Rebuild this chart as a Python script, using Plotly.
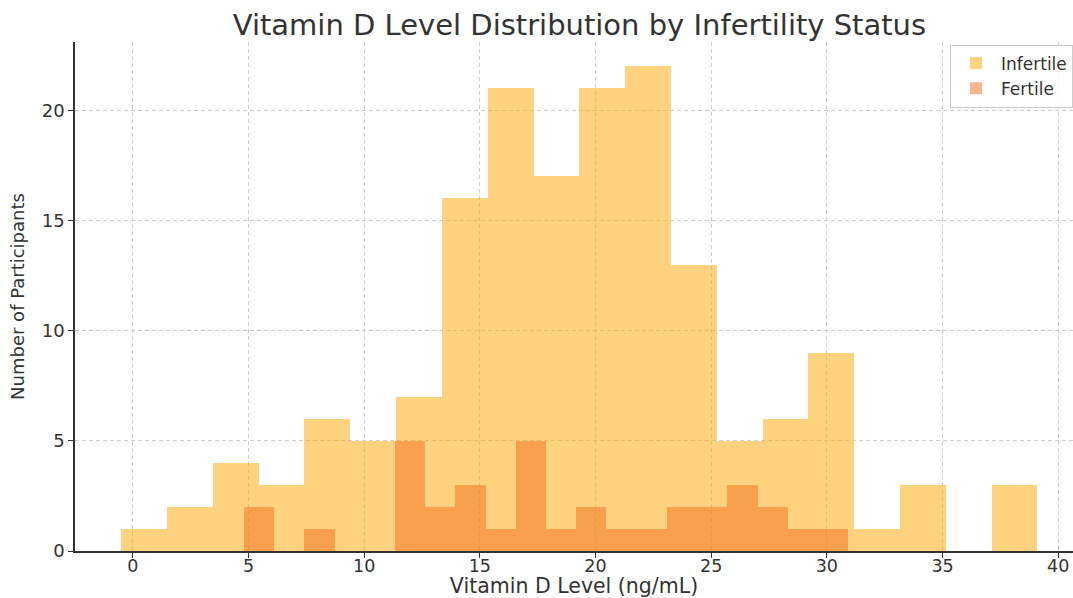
import plotly.graph_objects as go

# Histogram data (bin start, bin width, counts)
infertile_start = -0.5
infertile_width = 1.98
infertile_counts = [1, 2, 4, 3, 6, 5, 7, 16, 21, 17, 21, 22, 13, 5, 6, 9, 1, 3, 0, 3]

fertile_start = 4.80
fertile_width = 1.306
fertile_counts = [2, 0, 1, 0, 0, 5, 2, 3, 1, 5, 1, 2, 1, 1, 2, 2, 3, 2, 1, 1]

x_ticks = [0, 5, 10, 15, 20, 25, 30, 35, 40]
y_ticks = [0, 5, 10, 15, 20]


def centers(start, width, n):
    return [start + width * (i + 0.5) for i in range(n)]


FONT = "DejaVu Sans"
TXT = "#333333"
GRID = "#cfcfcf"

fig = go.Figure()
fig.add_trace(go.Bar(
    x=centers(infertile_start, infertile_width, len(infertile_counts)),
    y=infertile_counts, width=infertile_width, name="Infertile",
    marker=dict(color="rgba(255,165,0,0.5)", line=dict(width=0)),
))
fig.add_trace(go.Bar(
    x=centers(fertile_start, fertile_width, len(fertile_counts)),
    y=fertile_counts, width=fertile_width, name="Fertile",
    marker=dict(color="rgba(243,110,30,0.5)", line=dict(width=0)),
))

fig.update_layout(
    width=1073, height=598,
    barmode="overlay", bargap=0,
    paper_bgcolor="white", plot_bgcolor="white",
    margin=dict(l=75, r=0, t=42, b=47, autoexpand=False),
    font=dict(family=FONT, color=TXT, size=16),
    title=dict(text="Vitamin D Level Distribution by Infertility Status",
               x=0.54, xanchor="center", y=0.958, yanchor="middle",
               font=dict(size=29, color=TXT, family=FONT)),
    legend=dict(x=1.0, xanchor="right", y=0.995, yanchor="top",
                bgcolor="rgba(255,255,255,0.8)", bordercolor="#cccccc",
                borderwidth=1, font=dict(size=17, color=TXT, family=FONT),
                itemwidth=40),
    showlegend=True,
)

fig.update_xaxes(
    range=[-2.5, 40.64], tickvals=x_ticks, ticktext=[str(v) for v in x_ticks],
    showgrid=True, gridcolor=GRID, griddash="4px,3px", gridwidth=1,
    showline=True, linecolor=TXT, linewidth=1.5,
    ticks="outside", ticklen=5, tickcolor=TXT, tickwidth=1.2,
    tickfont=dict(size=17.5, color=TXT), ticklabelstandoff=-7,
    zeroline=False, automargin=False,
    title=dict(text="Vitamin D Level (ng/mL)", standoff=3,
               font=dict(size=20.5, color=TXT)),
)
fig.update_yaxes(
    range=[0, 23.1], tickvals=y_ticks, ticktext=[str(v) for v in y_ticks],
    showgrid=True, gridcolor=GRID, griddash="4px,3px", gridwidth=1,
    showline=True, linecolor=TXT, linewidth=1.5,
    ticks="outside", ticklen=5, tickcolor=TXT, tickwidth=1.2,
    tickfont=dict(size=18, color=TXT),
    zeroline=False, automargin=False,
    title=dict(text="Number of Participants", standoff=12,
               font=dict(size=18, color=TXT)),
)

fig.write_html("out.html", config={"displayModeBar": False},
               post_script="document.body.style.margin='0';document.body.style.overflow='hidden';")
